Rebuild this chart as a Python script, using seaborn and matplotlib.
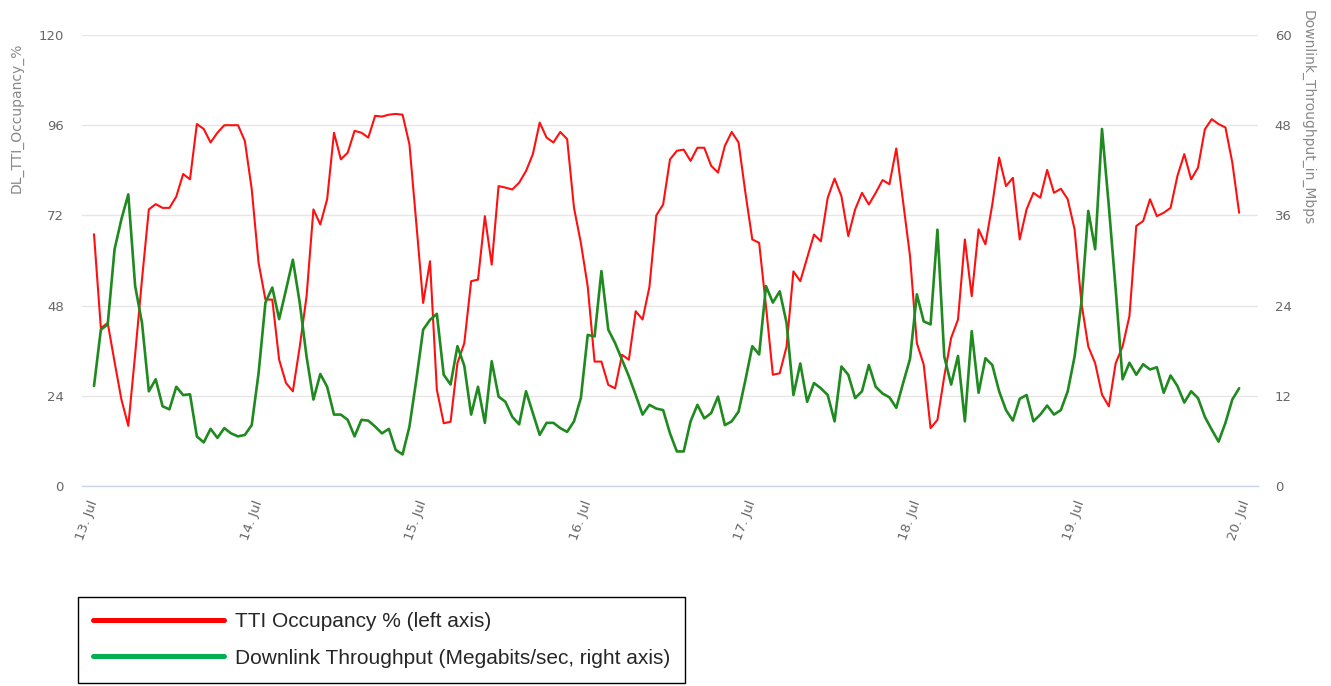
import matplotlib
matplotlib.use("Agg")
import matplotlib.pyplot as plt
import matplotlib.dates as mdates
from matplotlib.lines import Line2D
import numpy as np
import pandas as pd
import seaborn as sns

# Hourly samples, 13 Jul 00:00 .. 19 Jul 23:00
start = "2023-07-13 00:00"
tti_occupancy = [
    67, 42, 43.4, 33, 23, 16, 35, 55, 73.6, 75, 74, 74, 77, 83, 81.6, 96.3, 95, 91.4, 94, 96, 96, 96, 91.8, 79,
    59.4, 49.6, 49.6, 33.6, 27.4, 25.2, 37, 50.5, 73.6, 69.6, 76.3, 94, 86.9, 88.7, 94.5, 94, 92.7, 98.5, 98.3, 98.8, 99, 98.8, 90.9, 70,
    48.7, 59.8, 25.6, 16.7, 17.1, 32.7, 38, 54.5, 54.9, 71.8, 58.9, 79.8, 79.4, 78.9, 80.7, 83.8, 88.3, 96.7, 92.7, 91.4, 94.2, 92.3, 74, 64.7,
    53.1, 33.1, 33.1, 26.9, 26, 34.9, 33.6, 46.5, 44.3, 53, 72, 74.9, 86.9, 89.2, 89.5, 86.5, 90, 90, 85.2, 83.4, 90.5, 94.2, 91.4, 78,
    65.6, 64.7, 47.8, 29.6, 30, 37.1, 57.1, 54.5, 60.7, 66.9, 65.1, 76.7, 81.8, 77.1, 66.5, 73.6, 78, 74.9, 78, 81.4, 80.3, 89.8, 75.4, 61.2,
    38, 32.3, 15.4, 17.6, 29.2, 39.4, 44.3, 65.6, 50.5, 68.3, 64.3, 74.9, 87.4, 79.8, 82, 65.6, 73.6, 78, 76.7, 84.1, 78, 79.1, 76.3, 68.3,
    48.7, 37.1, 32.7, 24.3, 21.2, 32.7, 37.1, 45.2, 69.2, 70.5, 76.3, 71.8, 72.7, 74, 82.5, 88.3, 81.6, 84.7, 94.9, 97.6, 96.3, 95.4, 86.1, 72.7,
]
dl_throughput = [
    13.3, 20.8, 21.5, 31.5, 35.5, 38.8, 26.6, 21.7, 12.6, 14.2, 10.6, 10.2, 13.2, 12.1, 12.2, 6.6, 5.8, 7.6, 6.4, 7.7, 7.0, 6.6, 6.8, 8.1,
    15.0, 24.4, 26.4, 22.2, 26.1, 30.1, 24.4, 17.2, 11.5, 14.9, 13.2, 9.5, 9.5, 8.8, 6.6, 8.8, 8.7, 7.9, 7.0, 7.6, 4.8, 4.2, 7.9, 14.1,
    20.8, 22.1, 22.9, 14.8, 13.5, 18.6, 16.0, 9.5, 13.2, 8.4, 16.6, 11.9, 11.2, 9.2, 8.2, 12.6, 9.7, 6.8, 8.4, 8.4, 7.7, 7.2, 8.6, 11.7,
    20.1, 19.9, 28.6, 20.8, 19.0, 16.8, 14.6, 12.1, 9.5, 10.8, 10.3, 10.1, 7.0, 4.6, 4.6, 8.6, 10.8, 9.0, 9.7, 11.9, 8.1, 8.6, 9.9, 14.1,
    18.6, 17.5, 26.6, 24.4, 25.9, 21.7, 12.1, 16.3, 11.2, 13.7, 13.0, 12.1, 8.6, 15.9, 14.8, 11.7, 12.6, 16.1, 13.2, 12.3, 11.8, 10.4, 13.7, 16.9,
    25.5, 21.9, 21.5, 34.1, 17.2, 13.5, 17.3, 8.6, 20.6, 12.4, 17.0, 16.1, 12.6, 10.1, 8.7, 11.6, 12.1, 8.6, 9.5, 10.7, 9.5, 10.1, 12.6, 17.2,
    24.4, 36.6, 31.5, 47.5, 37.2, 26.1, 14.2, 16.4, 14.8, 16.2, 15.5, 15.8, 12.4, 14.7, 13.3, 11.1, 12.6, 11.7, 9.2, 7.5, 5.9, 8.4, 11.5, 13.0,
]
left_ticks = [0, 24, 48, 72, 96, 120]
right_ticks = [0, 12, 24, 36, 48, 60]
left_title = "DL_TTI_Occupancy_%"
right_title = "Downlink_Throughput_in_Mbps"
legend_labels = ["TTI Occupancy % (left axis)", "Downlink Throughput (Megabits/sec, right axis)"]

df = pd.DataFrame({
    "time": pd.date_range(start, periods=len(tti_occupancy), freq="h"),
    "tti": tti_occupancy,
    "thr": dl_throughput,
})

sns.set_style("white")
plt.rcParams["font.family"] = ["DejaVu Sans"]

W, H = 1331, 686
fig = plt.figure(figsize=(W / 100, H / 100), dpi=100)
px_l, px_r, px_t, px_b = 82, 1258, 35, 486
ax = fig.add_axes([px_l / W, 1 - px_b / H, (px_r - px_l) / W, (px_b - px_t) / H])
ax2 = ax.twinx()

sns.lineplot(data=df, x="time", y="tti", ax=ax, color="#ff1010", linewidth=1.5, legend=False)
sns.lineplot(data=df, x="time", y="thr", ax=ax2, color="#1f8a1f", linewidth=1.9, legend=False)

t0 = pd.Timestamp(start)
pad = pd.Timedelta(hours=1.75)
ax.set_xlim(t0 - pad, t0 + pd.Timedelta(days=7) + pad)
ax.set_ylim(0, 120)
ax2.set_ylim(0, 60)
ax.set_yticks(left_ticks)
ax2.set_yticks(right_ticks)

# horizontal grid on the left scale only
ax.grid(axis="y", color="#e6e6e6", linewidth=1.0)
ax.grid(axis="x", visible=False)
ax2.grid(False)
ax.set_axisbelow(True)

for a in (ax, ax2):
    for s in ("left", "right", "top", "bottom"):
        a.spines[s].set_visible(False)
ax.spines["bottom"].set_visible(True)
ax.spines["bottom"].set_color("#ccd6eb")
ax.spines["bottom"].set_linewidth(1.0)

ax.xaxis.set_major_locator(mdates.DayLocator())
ax.xaxis.set_major_formatter(mdates.DateFormatter("%d. %b"))
ax.tick_params(axis="x", direction="out", length=7.5, width=1, color="#ccd6eb",
               labelsize=9.5, labelcolor="#666666", pad=3)
for lab in ax.get_xticklabels():
    lab.set_rotation(70)
    lab.set_ha("right")
    lab.set_va("center")
    lab.set_rotation_mode("anchor")

ax.tick_params(axis="y", length=0, labelsize=9.5, labelcolor="#666666", pad=13)
ax2.tick_params(axis="y", length=0, labelsize=9.5, labelcolor="#666666", pad=12)

ax.set_xlabel("")
ax.set_ylabel(left_title, fontsize=10, color="#888888", rotation=90,
              ha="right", va="center", rotation_mode="anchor")
ax.yaxis.set_label_coords(-0.0553, 0.982)
ax2.set_ylabel(right_title, fontsize=10, color="#888888", rotation=-90,
               ha="left", va="center", rotation_mode="anchor")
ax2.yaxis.set_label_coords(1.0425, 1.055)

handles = [Line2D([], [], color="#ff0000", linewidth=3.6),
           Line2D([], [], color="#00b050", linewidth=3.6)]
leg = fig.legend(handles, legend_labels, loc="upper left",
                 bbox_to_anchor=(78 / W, 1 - 597 / H), bbox_transform=fig.transFigure,
                 frameon=True, fancybox=False, edgecolor="black", framealpha=1,
                 prop={"family": "Liberation Sans", "size": 15},
                 handlelength=6.3, handletextpad=0.5, borderpad=0.72,
                 labelspacing=0.85, borderaxespad=0)
leg.get_frame().set_linewidth(1.0)

fig.savefig("out.png", dpi=100)
